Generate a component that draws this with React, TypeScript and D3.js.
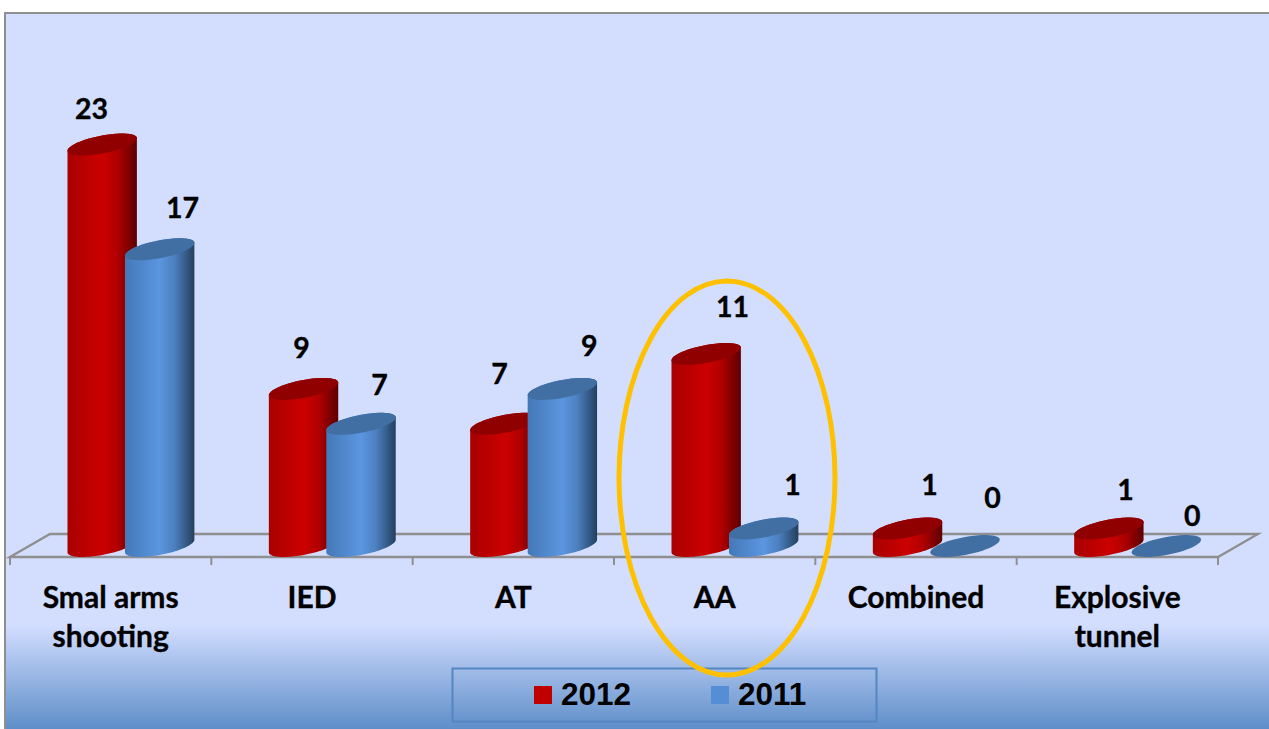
import React from "react";
import * as d3 from "d3";

const categories = [["Smal arms", "shooting"], ["IED"], ["AT"], ["AA"], ["Combined"], ["Explosive", "tunnel"]];
const seriesNames = ["2012", "2011"];
const values2012 = [23, 9, 7, 11, 1, 1];
const values2011 = [17, 7, 9, 1, 0, 0];
const labelOffset2012 = [[-10.7, -26], [-2, -31], [-5.4, -40], [26.3, -37], [22, -33.5], [16.6, -28.5]];
const labelOffset2011 = [[22.8, -31], [18.5, -29], [27, -33], [28.8, -33.5], [27.5, -38], [26, -20]];

const W = 1269, H = 729;
const PLOT_L = 10, PLOT_R = 1218, DEPTH_X = 40, FLOOR_FRONT = 557, FLOOR_BACK = 534;
const ELL_A = 34.7, ELL_S = 0.182, ELL_H = 9;
const GREY = "#8f8f8f";

const xBand = d3.scaleBand<number>().domain(d3.range(categories.length)).range([PLOT_L, PLOT_R]);
const xSeries = d3.scaleBand<number>().domain([0, 1]).range([57.5, 172.5]);
const y = d3.scaleLinear().domain([0, 23]).range([546, 144.5]);
const lineGen = d3.line<[number, number]>();

const ellPt = (cx: number, cy: number, t: number): [number, number] => [
  cx + ELL_A * Math.cos(t),
  cy - ELL_S * ELL_A * Math.cos(t) + ELL_H * Math.sin(t),
];
const arcPts = (cx: number, cy: number, t0: number, t1: number) =>
  d3.range(0, 49).map((i) => ellPt(cx, cy, t0 + ((t1 - t0) * i) / 48));

function Cylinder({ cat, ser, v }: { cat: number; ser: number; v: number }) {
  const cx = (xBand(cat) as number) + (xSeries(ser) as number) + ELL_A;
  const cyTop = y(v);
  const cyBase = y(0);
  const pts = [
    ...arcPts(cx, cyBase, Math.PI, 0),
    ...arcPts(cx, cyTop, 0, -Math.PI),
  ] as [number, number][];
  const top = arcPts(cx, cyTop, 0, 2 * Math.PI) as [number, number][];
  return (
    <g>
      {v > 0 && <path d={lineGen(pts) + "Z"} fill={`url(#body${ser})`} />}
      <path d={lineGen(top) + "Z"} fill={ser === 0 ? "#900000" : "#416ea3"} />
    </g>
  );
}

export default function App() {
  const series = [values2012, values2011];
  const offsets = [labelOffset2012, labelOffset2011];
  const font = "Lato, 'Open Sans', sans-serif";
  return (
    <svg width={W} height={H} style={{ position: "absolute", left: 0, top: 0, background: "#fff" }}>
      <defs>
        <linearGradient id="bg" x1="0" y1="0" x2="0" y2="1">
          <stop offset="0" stopColor="#d3deff" />
          <stop offset="0.855" stopColor="#d3deff" />
          <stop offset="1" stopColor="#5e8ec9" />
        </linearGradient>
        <linearGradient id="body0" x1="0" y1="0" x2="1" y2="0">
          <stop offset="0" stopColor="#a80000" />
          <stop offset="0.5" stopColor="#cc0000" />
          <stop offset="0.72" stopColor="#b00000" />
          <stop offset="1" stopColor="#5c0000" />
        </linearGradient>
        <linearGradient id="body1" x1="0" y1="0" x2="1" y2="0">
          <stop offset="0" stopColor="#4479b8" />
          <stop offset="0.5" stopColor="#5b96e0" />
          <stop offset="0.72" stopColor="#4c7fbe" />
          <stop offset="1" stopColor="#233f5e" />
        </linearGradient>
      </defs>
      <rect x={5} y={13} width={W - 5} height={H - 13} fill="url(#bg)" />
      <path d={`M5,${H}V13H${W}`} fill="none" stroke={GREY} strokeWidth={2} />

      <path
        d={`M${PLOT_L},${FLOOR_FRONT}L${PLOT_L + DEPTH_X},${FLOOR_BACK}H${PLOT_R + DEPTH_X}L${PLOT_R},${FLOOR_FRONT}Z`}
        fill="none"
        stroke={GREY}
        strokeWidth={2.3}
      />
      {d3.range(categories.length + 1).map((i) => {
        const x = PLOT_L + i * xBand.step();
        return <line key={i} x1={x} x2={x} y1={FLOOR_FRONT} y2={565} stroke={GREY} strokeWidth={2} />;
      })}

      {categories.map((_, c) => (
        <g key={c}>
          {series.map((s, k) => (
            <Cylinder key={k} cat={c} ser={k} v={s[c]} />
          ))}
        </g>
      ))}

      {series.map((s, k) =>
        s.map((v, c) => (
          <text
            key={`${k}-${c}`}
            x={(xBand(c) as number) + (xSeries(k) as number) + ELL_A + offsets[k][c][0]}
            y={y(v) + offsets[k][c][1]}
            textAnchor="middle"
            fontFamily={font}
            fontWeight={700}
            fontSize={28.5}
            stroke="#000"
            strokeWidth={0.35}
            fill="#000"
          >
            {v}
          </text>
        ))
      )}

      {categories.map((lines, c) =>
        lines.map((t, i) => (
          <text
            key={`${c}-${i}`}
            x={(xBand(c) as number) + xBand.bandwidth() / 2}
            y={608 + i * 39}
            textAnchor="middle"
            fontFamily={font}
            fontWeight={700}
            fontSize={30}
            stroke="#000"
            strokeWidth={0.35}
            fill="#000"
          >
            {t}
          </text>
        ))
      )}

      <rect x={452.5} y={668.5} width={424} height={53} fill="none" stroke="#5586c2" strokeWidth={2} />
      {seriesNames.map((n, k) => (
        <g key={n} transform={`translate(${534 + k * 177},686)`}>
          <rect width={18} height={18} fill={k === 0 ? "#c00000" : "#558ed5"} />
          <text x={27} y={18.5} fontFamily="'Liberation Sans', Arial, sans-serif" fontWeight={700} fontSize={31.5} fill="#000">
            {n}
          </text>
        </g>
      ))}

      <ellipse cx={727} cy={478} rx={108} ry={197} fill="none" stroke="#ffc000" strokeWidth={5} />
    </svg>
  );
}
